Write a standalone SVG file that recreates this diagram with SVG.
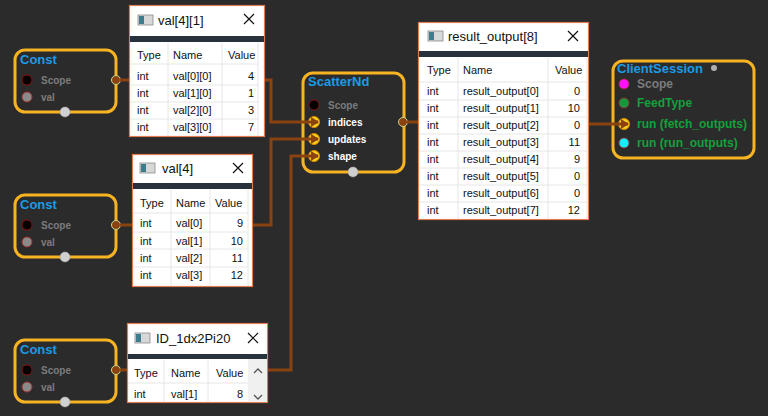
<svg xmlns="http://www.w3.org/2000/svg" width="768" height="416" viewBox="0 0 768 416">
<defs>
<style>
.nb{fill:none;stroke:#f7b322;stroke-width:3}
.nt{font:bold 13px "Liberation Sans",Arial,sans-serif;fill:#1a9be6}
.pl{font:bold 10px "Liberation Sans",Arial,sans-serif;fill:#7c7c7c}
.pw{font:bold 10px "Liberation Sans",Arial,sans-serif;fill:#ffffff}
.pg{font:bold 12px "Liberation Sans",Arial,sans-serif;fill:#14a03c}
.pg2{font:bold 12px "Liberation Sans",Arial,sans-serif;fill:#7c7c7c}
.out{fill:#8a4310;stroke:#c8d890;stroke-width:1}
.bot{fill:#d0d0d0;stroke:#aaaaaa;stroke-width:0.5}
.inp{fill:#ffd21a;stroke:#e08a00;stroke-width:1}
.wire{fill:none;stroke:#8a4310;stroke-width:3;marker-end:url(#arr)}
.win{fill:#ffffff;stroke:#e27a52;stroke-width:1.2}
.bar{fill:#27323d}
.tt{font:13px "Liberation Sans",Arial,sans-serif;fill:#111}
.tx{font:11px "Liberation Sans",Arial,sans-serif;fill:#111}
.tr{font:11px "Liberation Sans",Arial,sans-serif;fill:#111;text-anchor:end}
.gl{stroke:#e6e6e6;stroke-width:1}
.cl{stroke:#111;stroke-width:1.2;fill:none}
.ic{fill:#d8d8d8;stroke:#8a8a8a;stroke-width:0.8}
.ic2{fill:#3d7d8c}
</style>
<marker id="arr" markerUnits="userSpaceOnUse" markerWidth="9" markerHeight="10" refX="7" refY="5" orient="auto">
<path d="M0,0 L8,5 L0,10 z" fill="#8a4310"/>
</marker>
</defs>
<rect width="768" height="416" fill="#2b2b2b"/>

<g id="const1">
<rect x="15" y="50" width="101" height="62" rx="10" class="nb"/>
<text x="20" y="64" class="nt">Const</text>
<circle cx="27" cy="80" r="5" fill="#000" stroke="#8b1010"/>
<text x="41" y="84" class="pl">Scope</text>
<circle cx="27" cy="97" r="5" fill="#8a8a8a" stroke="#a03030"/>
<text x="41" y="101" class="pl">val</text>
<circle cx="116" cy="80" r="4.5" class="out"/>
<circle cx="65" cy="112" r="5" class="bot"/>
</g>

<g id="const2">
<rect x="15" y="195" width="101" height="62" rx="10" class="nb"/>
<text x="20" y="209" class="nt">Const</text>
<circle cx="27" cy="225" r="5" fill="#000" stroke="#8b1010"/>
<text x="41" y="229" class="pl">Scope</text>
<circle cx="27" cy="242" r="5" fill="#8a8a8a" stroke="#a03030"/>
<text x="41" y="246" class="pl">val</text>
<circle cx="116" cy="225" r="4.5" class="out"/>
<circle cx="65" cy="257" r="5" class="bot"/>
</g>

<g id="const3">
<rect x="15" y="340" width="101" height="62" rx="10" class="nb"/>
<text x="20" y="354" class="nt">Const</text>
<circle cx="27" cy="370" r="5" fill="#000" stroke="#8b1010"/>
<text x="41" y="374" class="pl">Scope</text>
<circle cx="27" cy="387" r="5" fill="#8a8a8a" stroke="#a03030"/>
<text x="41" y="391" class="pl">val</text>
<circle cx="116" cy="370" r="4.5" class="out"/>
<circle cx="65" cy="402" r="5" class="bot"/>
</g>

<g id="scatternd">
<rect x="303" y="73" width="101" height="99" rx="10" class="nb"/>
<text x="308" y="86" class="nt">ScatterNd</text>
<circle cx="314" cy="105" r="5" fill="#000" stroke="#8b1010"/>
<text x="328" y="109" class="pl">Scope</text>
<circle cx="314" cy="122" r="5.5" class="inp"/>
<text x="328" y="126" class="pw">indices</text>
<circle cx="314" cy="139" r="5.5" class="inp"/>
<text x="328" y="143" class="pw">updates</text>
<circle cx="314" cy="156" r="5.5" class="inp"/>
<text x="328" y="160" class="pw">shape</text>
<circle cx="403" cy="122" r="4.5" class="out"/>
<circle cx="353" cy="172" r="5" class="bot"/>
</g>

<g id="clientsession">
<rect x="613" y="61" width="141" height="97" rx="10" class="nb"/>
<text x="617" y="73" class="nt">ClientSession</text>
<circle cx="714" cy="68" r="3" fill="#b0b0b0"/>
<circle cx="624" cy="84" r="5" fill="#ff10ff" stroke="#a03030" stroke-width="0.8"/>
<text x="637" y="88" class="pg2">Scope</text>
<circle cx="624" cy="103" r="5" fill="#149a3c" stroke="#a03030" stroke-width="0.8"/>
<text x="637" y="107" class="pg">FeedType</text>
<circle cx="624" cy="124" r="5.5" class="inp"/>
<text x="637" y="128" class="pg">run (fetch_outputs)</text>
<circle cx="624" cy="143" r="5" fill="#10f0ff" stroke="#a03030" stroke-width="0.8"/>
<text x="637" y="147" class="pg">run (run_outputs)</text>
</g>

<g id="connectors">
<path class="wire" d="M120,80 H271 V122 H318"/>
<path class="wire" d="M120,225 H271 V139 H318"/>
<path class="wire" d="M120,370 H291 V156 H318"/>
<path class="wire" d="M407,122 H510 V124 H628"/>
</g>

<g id="win_val41">
<rect x="129.5" y="5.5" width="135" height="131" class="win"/>
<rect x="138" y="15" width="15" height="10" class="ic"/><rect x="139" y="16" width="5" height="8" class="ic2"/>
<text x="158" y="25" class="tt">val[4][1]</text>
<path d="M244,14 L254,24 M254,14 L244,24" class="cl"/>
<rect x="130" y="36" width="134" height="6" class="bar"/>
<path d="M168,43 V136 M222,43 V136 M258,43 V136 M130,64 H258 M130,85 H258 M130,102 H258 M130,119 H258" class="gl"/>
<text x="137" y="59" class="tx">Type</text><text x="173" y="59" class="tx">Name</text><text x="228" y="59" class="tx">Value</text>
<text x="137" y="80" class="tx">int</text><text x="173" y="80" class="tx">val[0][0]</text><text x="254" y="80" class="tr">4</text>
<text x="137" y="97" class="tx">int</text><text x="173" y="97" class="tx">val[1][0]</text><text x="254" y="97" class="tr">1</text>
<text x="137" y="114" class="tx">int</text><text x="173" y="114" class="tx">val[2][0]</text><text x="254" y="114" class="tr">3</text>
<text x="137" y="131" class="tx">int</text><text x="173" y="131" class="tx">val[3][0]</text><text x="254" y="131" class="tr">7</text>
</g>

<g id="win_val4">
<rect x="132.5" y="154.5" width="120" height="132" class="win"/>
<rect x="140" y="163" width="15" height="10" class="ic"/><rect x="141" y="164" width="5" height="8" class="ic2"/>
<text x="162" y="173" class="tt">val[4]</text>
<path d="M233,163 L243,173 M243,163 L233,173" class="cl"/>
<rect x="133" y="183" width="119" height="6" class="bar"/>
<path d="M171,190 V286 M210,190 V286 M248,190 V286 M133,213 H248 M133,232 H248 M133,249 H248 M133,267 H248" class="gl"/>
<text x="140" y="207" class="tx">Type</text><text x="176" y="207" class="tx">Name</text><text x="215" y="207" class="tx">Value</text>
<text x="140" y="227" class="tx">int</text><text x="176" y="227" class="tx">val[0]</text><text x="243" y="227" class="tr">9</text>
<text x="140" y="245" class="tx">int</text><text x="176" y="245" class="tx">val[1]</text><text x="243" y="245" class="tr">10</text>
<text x="140" y="262" class="tx">int</text><text x="176" y="262" class="tx">val[2]</text><text x="243" y="262" class="tr">11</text>
<text x="140" y="279" class="tx">int</text><text x="176" y="279" class="tx">val[3]</text><text x="243" y="279" class="tr">12</text>
</g>

<g id="win_id">
<rect x="127.5" y="323.5" width="140" height="79" class="win"/>
<rect x="135" y="333" width="15" height="10" class="ic"/><rect x="136" y="334" width="5" height="8" class="ic2"/>
<text x="156" y="343" class="tt">ID_1dx2Pi20</text>
<path d="M248,333 L258,343 M258,333 L248,343" class="cl"/>
<rect x="128" y="354" width="139" height="5" class="bar"/>
<rect x="248" y="359" width="19" height="43" fill="#f0f0f0"/>
<path d="M164,360 V402 M208,360 V402 M128,383 H248" class="gl"/>
<path d="M254,373 L258,369 L262,373 M254,395 L258,399 L262,395" fill="none" stroke="#555" stroke-width="1.3"/>
<text x="134" y="377" class="tx">Type</text><text x="171" y="377" class="tx">Name</text><text x="216" y="377" class="tx">Value</text>
<text x="134" y="398" class="tx">int</text><text x="171" y="398" class="tx">val[1]</text><text x="243" y="398" class="tr">8</text>
</g>

<g id="win_result">
<rect x="418.5" y="22.5" width="170" height="197" class="win"/>
<rect x="428" y="31" width="15" height="10" class="ic"/><rect x="429" y="32" width="5" height="8" class="ic2"/>
<text x="448" y="41" class="tt">result_output[8]</text>
<path d="M568,31 L578,41 M578,31 L568,41" class="cl"/>
<rect x="419" y="51" width="169" height="6" class="bar"/>
<path d="M458,58 V219 M548,58 V219 M587,58 V219 M419,82 H587 M419,100 H587 M419,117 H587 M419,134 H587 M419,151 H587 M419,168 H587 M419,185 H587 M419,202 H587" class="gl"/>
<text x="427" y="74" class="tx">Type</text><text x="463" y="74" class="tx">Name</text><text x="555" y="74" class="tx">Value</text>
<text x="427" y="95" class="tx">int</text><text x="463" y="95" class="tx">result_output[0]</text><text x="580" y="95" class="tr">0</text>
<text x="427" y="112" class="tx">int</text><text x="463" y="112" class="tx">result_output[1]</text><text x="580" y="112" class="tr">10</text>
<text x="427" y="129" class="tx">int</text><text x="463" y="129" class="tx">result_output[2]</text><text x="580" y="129" class="tr">0</text>
<text x="427" y="146" class="tx">int</text><text x="463" y="146" class="tx">result_output[3]</text><text x="580" y="146" class="tr">11</text>
<text x="427" y="163" class="tx">int</text><text x="463" y="163" class="tx">result_output[4]</text><text x="580" y="163" class="tr">9</text>
<text x="427" y="180" class="tx">int</text><text x="463" y="180" class="tx">result_output[5]</text><text x="580" y="180" class="tr">0</text>
<text x="427" y="197" class="tx">int</text><text x="463" y="197" class="tx">result_output[6]</text><text x="580" y="197" class="tr">0</text>
<text x="427" y="214" class="tx">int</text><text x="463" y="214" class="tx">result_output[7]</text><text x="580" y="214" class="tr">12</text>
</g>
</svg>
